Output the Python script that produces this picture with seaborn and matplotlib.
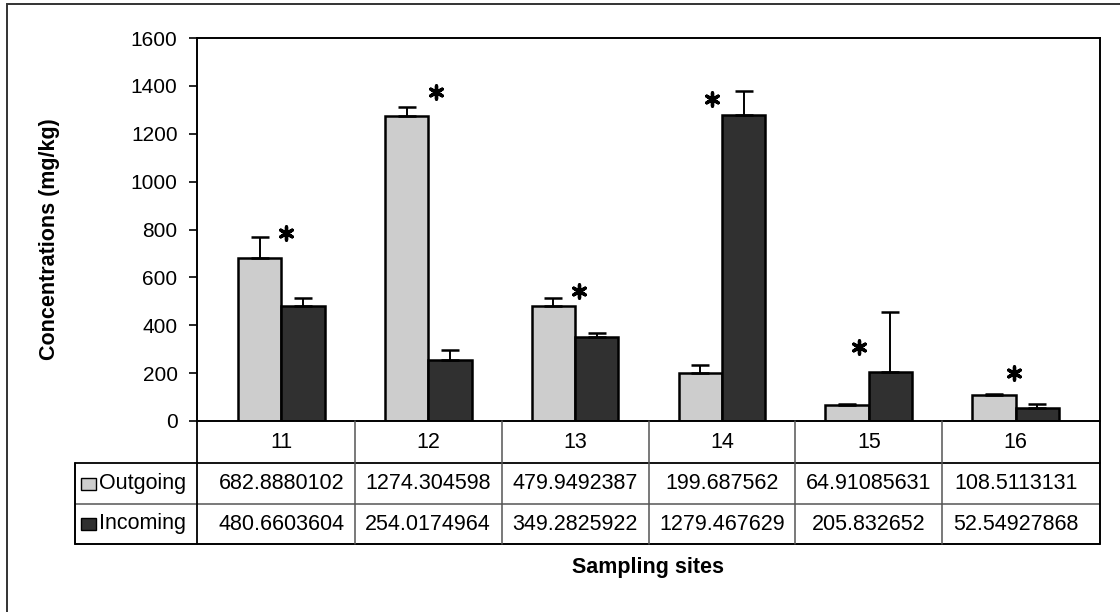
import numpy as np
import pandas as pd
import matplotlib
matplotlib.use("Agg")
import matplotlib.pyplot as plt
from matplotlib.transforms import blended_transform_factory
from matplotlib.patches import Rectangle
from matplotlib.lines import Line2D
import seaborn as sns

# ---------------- data ----------------
sites = ["11", "12", "13", "14", "15", "16"]
series_names = ["Outgoing", "Incoming"]
outgoing = [682.8880102, 1274.304598, 479.9492387, 199.687562, 64.91085631, 108.5113131]
incoming = [480.6603604, 254.0174964, 349.2825922, 1279.467629, 205.832652, 52.54927868]
outgoing_err = [86, 38, 34, 35, 6, 6]
incoming_err = [33, 43, 19, 100, 250, 18]
star_heights = [785, 1375, 543, 1345, 309, 200]
star_shift = [0.03, 0.05, 0.03, -0.07, -0.07, -0.01]
y_ticks = [0, 200, 400, 600, 800, 1000, 1200, 1400, 1600]
y_label = "Concentrations (mg/kg)"
x_label = "Sampling sites"

# ---------------- style ----------------
sns.set_theme(style="white")
plt.rcParams["font.family"] = ["Liberation Sans", "DejaVu Sans"]

W, H = 1120, 612
fig = plt.figure(figsize=(W / 100, H / 100), dpi=100)
fig.patch.set_facecolor("white")

def fx(px):
    return px / W

def fy(py):
    return 1 - py / H

ax_l, ax_r, ax_t, ax_b = 197, 1100, 38, 421
ax = fig.add_axes([fx(ax_l), fy(ax_b), fx(ax_r - ax_l), (ax_b - ax_t) / H])

c_out = "#cdcdcd"
c_in = "#303030"

df = pd.DataFrame({
    "site": sites * 2,
    "series": [series_names[0]] * len(sites) + [series_names[1]] * len(sites),
    "value": outgoing + incoming,
})

sns.barplot(data=df, x="site", y="value", hue="series", order=sites,
            hue_order=series_names, palette=[c_out, c_in], saturation=1,
            width=0.59, gap=0, edgecolor="black", linewidth=1.8,
            errorbar=None, legend=False, ax=ax)

# error bars (upper only) from the drawn bar geometry
for cont, errs in zip(ax.containers, [outgoing_err, incoming_err]):
    xs = [p.get_x() + p.get_width() / 2 for p in cont.patches]
    tops = [p.get_height() for p in cont.patches]
    ax.errorbar(xs, tops, yerr=[np.zeros(len(errs)), errs], fmt="none",
                ecolor="black", elinewidth=1.4, capsize=6.5, capthick=1.8,
                zorder=5)

# significance asterisks
xpos = np.arange(len(sites)) + np.array(star_shift)
ax.scatter(xpos, star_heights, marker=(6, 2, 0), s=90, color="black",
           linewidths=2.4, zorder=6)

ax.set_ylim(0, 1600)
ax.set_yticks(y_ticks)
ax.set_yticklabels([str(t) for t in y_ticks])
ax.set_xlabel("")
ax.set_ylabel("")
ax.tick_params(axis="x", bottom=False, labelbottom=False)
ax.tick_params(axis="y", left=True, direction="out", length=6, width=1.2,
               pad=8, labelsize=15, colors="black")
for s in ax.spines.values():
    s.set_visible(True)
    s.set_color("black")
    s.set_linewidth(1.4)

# ---------------- data table below the axes ----------------
tr = blended_transform_factory(ax.transData, fig.transFigure)
tra = blended_transform_factory(ax.transAxes, fig.transFigure)
row_tops = [421, 463, 504, 544]
left_col = (75 - ax_l) / (ax_r - ax_l)  # axes fraction of table left edge
n = len(sites)

def hline(y, x0, x1, color="black", lw=1.3):
    fig.add_artist(Line2D([x0, x1], [fy(y), fy(y)], transform=tra,
                          color=color, lw=lw, clip_on=False))

def vline_data(x, y0, y1, color="black", lw=1.3):
    fig.add_artist(Line2D([x, x], [fy(y0), fy(y1)], transform=tr,
                          color=color, lw=lw, clip_on=False))

def vline_ax(x, y0, y1, color="black", lw=1.3):
    fig.add_artist(Line2D([x, x], [fy(y0), fy(y1)], transform=tra,
                          color=color, lw=lw, clip_on=False))

hline(row_tops[1], left_col, 1.0, color="black", lw=1.3)
hline(row_tops[2], left_col, 1.0, color="#555555", lw=1.1)
hline(row_tops[3], left_col, 1.0, color="black", lw=1.4)
vline_ax(left_col, row_tops[1], row_tops[3], color="black", lw=1.4)
vline_ax(0.0, row_tops[0], row_tops[3], color="black", lw=1.3)
vline_ax(1.0, row_tops[0], row_tops[3], color="black", lw=1.4)
for i in range(n - 1):
    vline_data(i + 0.5, row_tops[0], row_tops[3], color="#555555", lw=1.1)

fs_tab = 15.5
for i, s in enumerate(sites):
    fig.text(i, fy((row_tops[0] + row_tops[1]) / 2), s, transform=tr,
             ha="center", va="center", fontsize=fs_tab, color="black")

for r, (vals, name, col) in enumerate(zip([outgoing, incoming], series_names, [c_out, c_in])):
    yc = fy((row_tops[r + 1] + row_tops[r + 2]) / 2)
    for i, v in enumerate(vals):
        fig.text(i, yc, f"{v:.10g}", transform=tr, ha="center", va="center",
                 fontsize=fs_tab, color="black")
    # legend key and row label
    key_h = 12
    fig.add_artist(Rectangle((fx(81), yc - key_h / 2 / H), fx(15), key_h / H,
                             transform=fig.transFigure, facecolor=col,
                             edgecolor="black", lw=1.0))
    fig.text(fx(99), yc, name, ha="left", va="center", fontsize=fs_tab,
             color="black")

# axis titles
fig.text(fx((ax_l + ax_r) / 2), fy(567), x_label, ha="center", va="center",
         fontsize=15.5, fontweight="bold", color="black")
fig.text(fx(50), fy(239), y_label, ha="center", va="center", rotation=90,
         fontsize=15.5, fontweight="bold", color="black")

# outer chart frame (only top and left edges are inside the picture)
fig.add_artist(Rectangle((fx(7), -0.1), 1.2, fy(4) + 0.1,
                         transform=fig.transFigure, fill=False,
                         edgecolor="#333333", lw=1.4))

fig.savefig("out.png", dpi=100, facecolor="white")
